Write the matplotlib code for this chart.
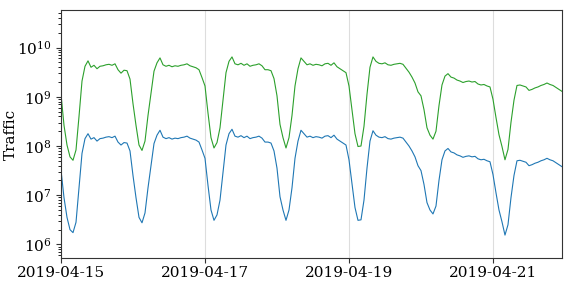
import numpy as np
import pandas as pd
import matplotlib
matplotlib.use('Agg')
import matplotlib.pyplot as plt
import matplotlib.dates as mdates

# hourly timestamps, 2019-04-15 00:00 .. 2019-04-21 23:00
times = pd.date_range('2019-04-15 00:00', periods=168, freq='h')

# traffic as log10 values (one per hour)
blue_log10 = [
    7.51, 6.95, 6.55, 6.30, 6.24, 6.45, 7.15, 7.85, 8.15, 8.25, 8.14, 8.17,
    8.10, 8.15, 8.16, 8.18, 8.19, 8.17, 8.20, 8.08, 8.02, 8.07, 8.06, 7.90,
    7.40, 6.95, 6.55, 6.44, 6.64, 7.15, 7.60, 8.05, 8.22, 8.32, 8.18, 8.15,
    8.17, 8.14, 8.16, 8.15, 8.17, 8.18, 8.20, 8.16, 8.14, 8.12, 8.08, 7.92,
    7.75, 7.20, 6.70, 6.49, 6.60, 6.90, 7.45, 8.02, 8.25, 8.34, 8.20, 8.18,
    8.21, 8.17, 8.20, 8.15, 8.17, 8.18, 8.20, 8.16, 8.08, 8.08, 8.06, 7.90,
    7.55, 6.97, 6.70, 6.49, 6.70, 7.15, 7.75, 8.10, 8.32, 8.25, 8.18, 8.20,
    8.17, 8.19, 8.18, 8.16, 8.20, 8.21, 8.17, 8.22, 8.14, 8.10, 8.06, 8.02,
    7.72, 7.24, 6.75, 6.49, 6.50, 6.90, 7.55, 8.10, 8.31, 8.22, 8.18, 8.17,
    8.19, 8.15, 8.14, 8.16, 8.17, 8.18, 8.16, 8.08, 8.00, 7.90, 7.78, 7.60,
    7.50, 7.22, 6.85, 6.70, 6.62, 6.78, 7.30, 7.72, 7.90, 7.95, 7.88, 7.86,
    7.82, 7.80, 7.77, 7.79, 7.80, 7.78, 7.79, 7.74, 7.72, 7.73, 7.70, 7.68,
    7.42, 7.05, 6.70, 6.46, 6.19, 6.40, 6.95, 7.40, 7.70, 7.71, 7.69, 7.67,
    7.60, 7.62, 7.65, 7.67, 7.70, 7.72, 7.75, 7.72, 7.70, 7.66, 7.62, 7.58,
]

green_log10 = [
    9.05, 8.42, 8.02, 7.78, 7.71, 7.92, 8.60, 9.32, 9.62, 9.73, 9.60, 9.64,
    9.57, 9.62, 9.63, 9.65, 9.66, 9.64, 9.67, 9.55, 9.48, 9.54, 9.53, 9.36,
    8.86, 8.42, 8.02, 7.91, 8.10, 8.62, 9.07, 9.52, 9.69, 9.79, 9.65, 9.62,
    9.64, 9.61, 9.63, 9.62, 9.64, 9.65, 9.67, 9.63, 9.61, 9.59, 9.55, 9.39,
    9.22, 8.67, 8.17, 7.96, 8.07, 8.37, 8.92, 9.49, 9.72, 9.81, 9.67, 9.65,
    9.68, 9.64, 9.67, 9.62, 9.64, 9.65, 9.67, 9.63, 9.55, 9.55, 9.53, 9.37,
    9.02, 8.44, 8.17, 7.96, 8.17, 8.62, 9.22, 9.57, 9.79, 9.72, 9.65, 9.67,
    9.64, 9.66, 9.65, 9.63, 9.67, 9.68, 9.64, 9.69, 9.61, 9.57, 9.53, 9.49,
    9.22, 8.74, 8.25, 7.99, 8.00, 8.40, 9.05, 9.60, 9.81, 9.72, 9.68, 9.67,
    9.69, 9.65, 9.64, 9.66, 9.67, 9.68, 9.66, 9.58, 9.50, 9.40, 9.28, 9.10,
    9.02, 8.74, 8.37, 8.22, 8.14, 8.30, 8.82, 9.24, 9.42, 9.47, 9.40, 9.38,
    9.34, 9.32, 9.29, 9.31, 9.32, 9.30, 9.31, 9.26, 9.24, 9.25, 9.22, 9.20,
    8.95, 8.58, 8.23, 7.99, 7.72, 7.93, 8.48, 8.93, 9.23, 9.24, 9.22, 9.20,
    9.13, 9.15, 9.18, 9.20, 9.23, 9.25, 9.28, 9.25, 9.23, 9.19, 9.15, 9.11,
]

blue = 10 ** np.array(blue_log10)
green = 10 ** np.array(green_log10)

plt.rcParams['font.family'] = 'DejaVu Serif'
plt.rcParams['font.size'] = 11

fig = plt.figure(figsize=(5.68, 2.84), dpi=100)
ax = fig.add_axes([0.1074, 0.0915, 0.882, 0.8733])

ax.plot(times, green, color='tab:green', linewidth=0.8)
ax.plot(times, blue, color='tab:blue', linewidth=0.8)

ax.set_yscale('log')
ax.set_ylim(5.3e5, 5.8e10)
ax.set_xlim(times[0], times[-1])
ax.set_ylabel('Traffic')
ax.yaxis.set_label_coords(-0.086, 0.5)

ax.xaxis.set_major_locator(mdates.DayLocator(bymonthday=[15, 17, 19, 21]))
ax.xaxis.set_major_formatter(mdates.DateFormatter('%Y-%m-%d'))
ax.grid(axis='x', color='#dddddd', linewidth=0.8)
ax.grid(axis='y', visible=False, which='both')

for s in ax.spines.values():
    s.set_color('#333333')
ax.tick_params(colors='#333333', labelcolor='black')
ax.tick_params(axis='x', pad=2)

fig.savefig('out.png', dpi=100)
